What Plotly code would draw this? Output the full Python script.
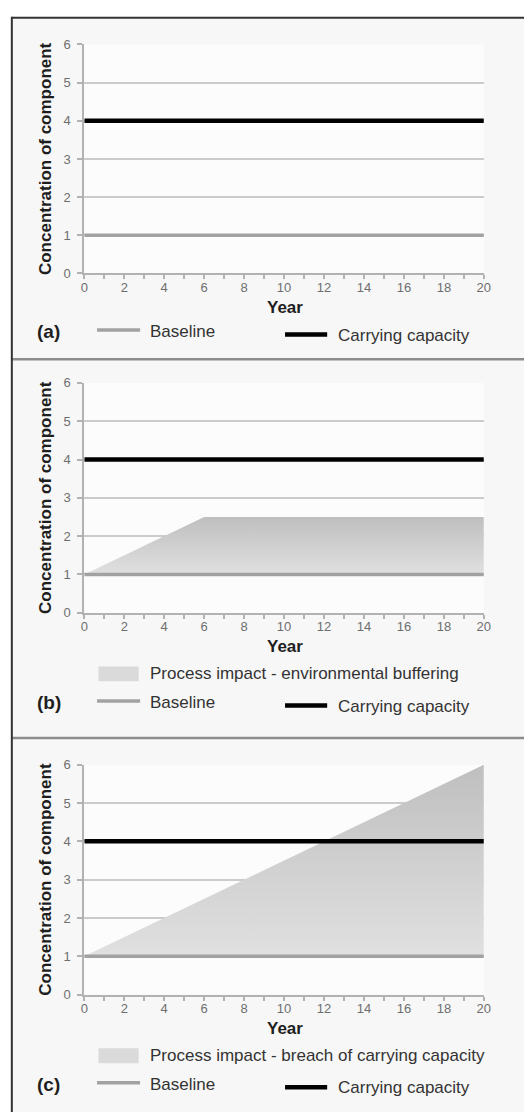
import plotly.graph_objects as go

# ---------------- data ----------------
years = [0, 20]
baseline = [1, 1]
carrying_capacity = [4, 4]
buffer_years = [0, 6, 20]
buffer_impact = [1, 2.5, 2.5]
breach_years = [0, 20]
breach_impact = [1, 6]

panel_labels = ["(a)", "(b)", "(c)"]
impact_names = [None,
                "Process impact - environmental buffering",
                "Process impact - breach of carrying capacity"]
impact_x = [None, buffer_years, breach_years]
impact_y = [None, buffer_impact, breach_impact]
x_tick_vals = list(range(0, 21, 2))
x_minor_vals = list(range(0, 21, 1))
y_tick_vals = list(range(0, 7))
x_title = "Year"
y_title = "Concentration of component"
baseline_name = "Baseline"
carrying_name = "Carrying capacity"

# ---------------- geometry (pixels) ----------------
W, H = 531, 1120
FONT = "Liberation Sans, Arial, sans-serif"
plot_left, plot_right = 82, 490
plot_top = [38, 381, 768]
plot_bottom = [270, 614, 1001]


def px(x):
    return x / W


def py(y):
    return 1 - y / H


fill_scale = [[0, "#e0e0e0"], [1, "#bfbfbf"]]
grid_col = "#cbcbcb"
axis_col = "#b2b2b2"
base_col = "#a2a2a2"
tick_font = dict(family=FONT, size=13, color="#6e6e6e")

fig = go.Figure()
shapes = []
annotations = []

# panel backgrounds & borders
shapes.append(dict(type="rect", xref="paper", yref="paper", layer="below",
                   x0=px(8), x1=1, y0=0, y1=py(11),
                   fillcolor="#f7f7f7", line=dict(width=0)))
for i in range(3):
    shapes.append(dict(type="rect", xref="paper", yref="paper", layer="below",
                       x0=px(plot_left), x1=px(plot_right),
                       y0=py(plot_bottom[i]), y1=py(plot_top[i]),
                       fillcolor="#fcfcfc", line=dict(width=0)))
for sep in [357, 741]:
    shapes.append(dict(type="line", xref="paper", yref="paper",
                       x0=px(8), x1=1, y0=py(sep), y1=py(sep),
                       line=dict(color="#8c8c8c", width=2.5)))
shapes.append(dict(type="line", xref="paper", yref="paper",
                   x0=px(8), x1=1, y0=py(11), y1=py(11),
                   line=dict(color="#333333", width=2)))
shapes.append(dict(type="line", xref="paper", yref="paper",
                   x0=px(8), x1=px(8), y0=0, y1=py(10),
                   line=dict(color="#333333", width=2)))

for i in range(3):
    sfx = "" if i == 0 else str(i + 1)
    xa, ya = "x" + sfx, "y" + sfx
    if impact_names[i] is not None:
        fig.add_trace(go.Scatter(x=years, y=baseline, xaxis=xa, yaxis=ya,
                                 mode="lines", line=dict(width=0),
                                 showlegend=False, hoverinfo="skip"))
        fig.add_trace(go.Scatter(x=impact_x[i], y=impact_y[i], xaxis=xa, yaxis=ya,
                                 mode="lines", line=dict(width=0),
                                 fill="tonexty", fillcolor="#d0d0d0",
                                 fillgradient=dict(type="vertical", colorscale=fill_scale),
                                 name=impact_names[i], showlegend=False))
    fig.add_trace(go.Scatter(x=years, y=baseline, xaxis=xa, yaxis=ya, mode="lines",
                             line=dict(color=base_col, width=3.5),
                             name=baseline_name, showlegend=False))
    fig.add_trace(go.Scatter(x=years, y=carrying_capacity, xaxis=xa, yaxis=ya,
                             mode="lines", line=dict(color="#000000", width=4.5),
                             name=carrying_name, showlegend=False))

    fig.update_layout(**{
        "xaxis" + sfx: dict(
            domain=[px(plot_left), px(plot_right)], anchor=ya, range=[0, 20],
            tickmode="array", tickvals=x_tick_vals, showgrid=False, zeroline=False,
            showline=True, linecolor=axis_col, linewidth=2,
            ticks="outside", ticklen=4, tickwidth=1.5, tickcolor=axis_col,
            minor=dict(tickmode="array", tickvals=x_minor_vals, ticks="outside",
                       ticklen=4, tickwidth=1.5, tickcolor=axis_col, showgrid=False),
            tickfont=tick_font, ticklabelstandoff=-3, fixedrange=True),
        "yaxis" + sfx: dict(
            domain=[py(plot_bottom[i]), py(plot_top[i])], anchor=xa, range=[0, 6],
            tickmode="array", tickvals=y_tick_vals, showgrid=True,
            gridcolor=grid_col, gridwidth=2, zeroline=False,
            showline=True, linecolor=axis_col, linewidth=2,
            ticks="outside", ticklen=5, tickwidth=1.5, tickcolor=axis_col,
            tickfont=tick_font, ticklabelstandoff=4, fixedrange=True),
    })

    zb = plot_bottom[i]
    yc = (plot_top[i] + plot_bottom[i]) / 2
    annotations.append(dict(xref="paper", yref="paper", x=px(43), y=py(yc),
                            text=y_title, textangle=-90, showarrow=False,
                            xanchor="center", yanchor="middle",
                            font=dict(family=FONT, size=17, color="#1e1e1e", weight="bold")))
    annotations.append(dict(xref="paper", yref="paper", x=px(286.5), y=py(zb + 34.5),
                            text=x_title, showarrow=False,
                            xanchor="center", yanchor="middle",
                            font=dict(family=FONT, size=17, color="#1e1e1e", weight="bold")))

    if impact_names[i] is None:
        row2 = zb + 59
    else:
        row1 = zb + 62
        row2 = zb + 91
        shapes.append(dict(type="rect", xref="paper", yref="paper",
                           x0=px(96.5), x1=px(137.5), y0=py(row1 + 7.5), y1=py(row1 - 7.5),
                           fillcolor="#dadada", line=dict(width=0)))
        annotations.append(dict(xref="paper", yref="paper", x=px(147), y=py(row1),
                                text=impact_names[i], showarrow=False,
                                xanchor="left", yanchor="middle",
                                font=dict(family=FONT, size=17, color="#333333")))
    annotations.append(dict(xref="paper", yref="paper", x=px(32), y=py(row2),
                            text=panel_labels[i], showarrow=False,
                            xanchor="left", yanchor="middle",
                            font=dict(family=FONT, size=19, color="#1e1e1e", weight="bold")))
    shapes.append(dict(type="line", xref="paper", yref="paper",
                       x0=px(95), x1=px(139), y0=py(row2 - 1.7), y1=py(row2 - 1.7),
                       line=dict(color=base_col, width=3.5)))
    annotations.append(dict(xref="paper", yref="paper", x=px(147), y=py(row2),
                            text=baseline_name, showarrow=False,
                            xanchor="left", yanchor="middle",
                            font=dict(family=FONT, size=17, color="#333333")))
    shapes.append(dict(type="line", xref="paper", yref="paper",
                       x0=px(287), x1=px(330), y0=py(row2 + 3), y1=py(row2 + 3),
                       line=dict(color="#000000", width=4.5)))
    annotations.append(dict(xref="paper", yref="paper", x=px(339), y=py(row2 + 3.5),
                            text=carrying_name, showarrow=False,
                            xanchor="left", yanchor="middle",
                            font=dict(family=FONT, size=17, color="#333333")))

fig.update_layout(
    width=W, height=H, margin=dict(l=0, r=0, t=0, b=0),
    paper_bgcolor="#ffffff", plot_bgcolor="rgba(0,0,0,0)",
    showlegend=False, shapes=shapes, annotations=annotations,
)

fig.write_html("out.html", config={"displayModeBar": False})
